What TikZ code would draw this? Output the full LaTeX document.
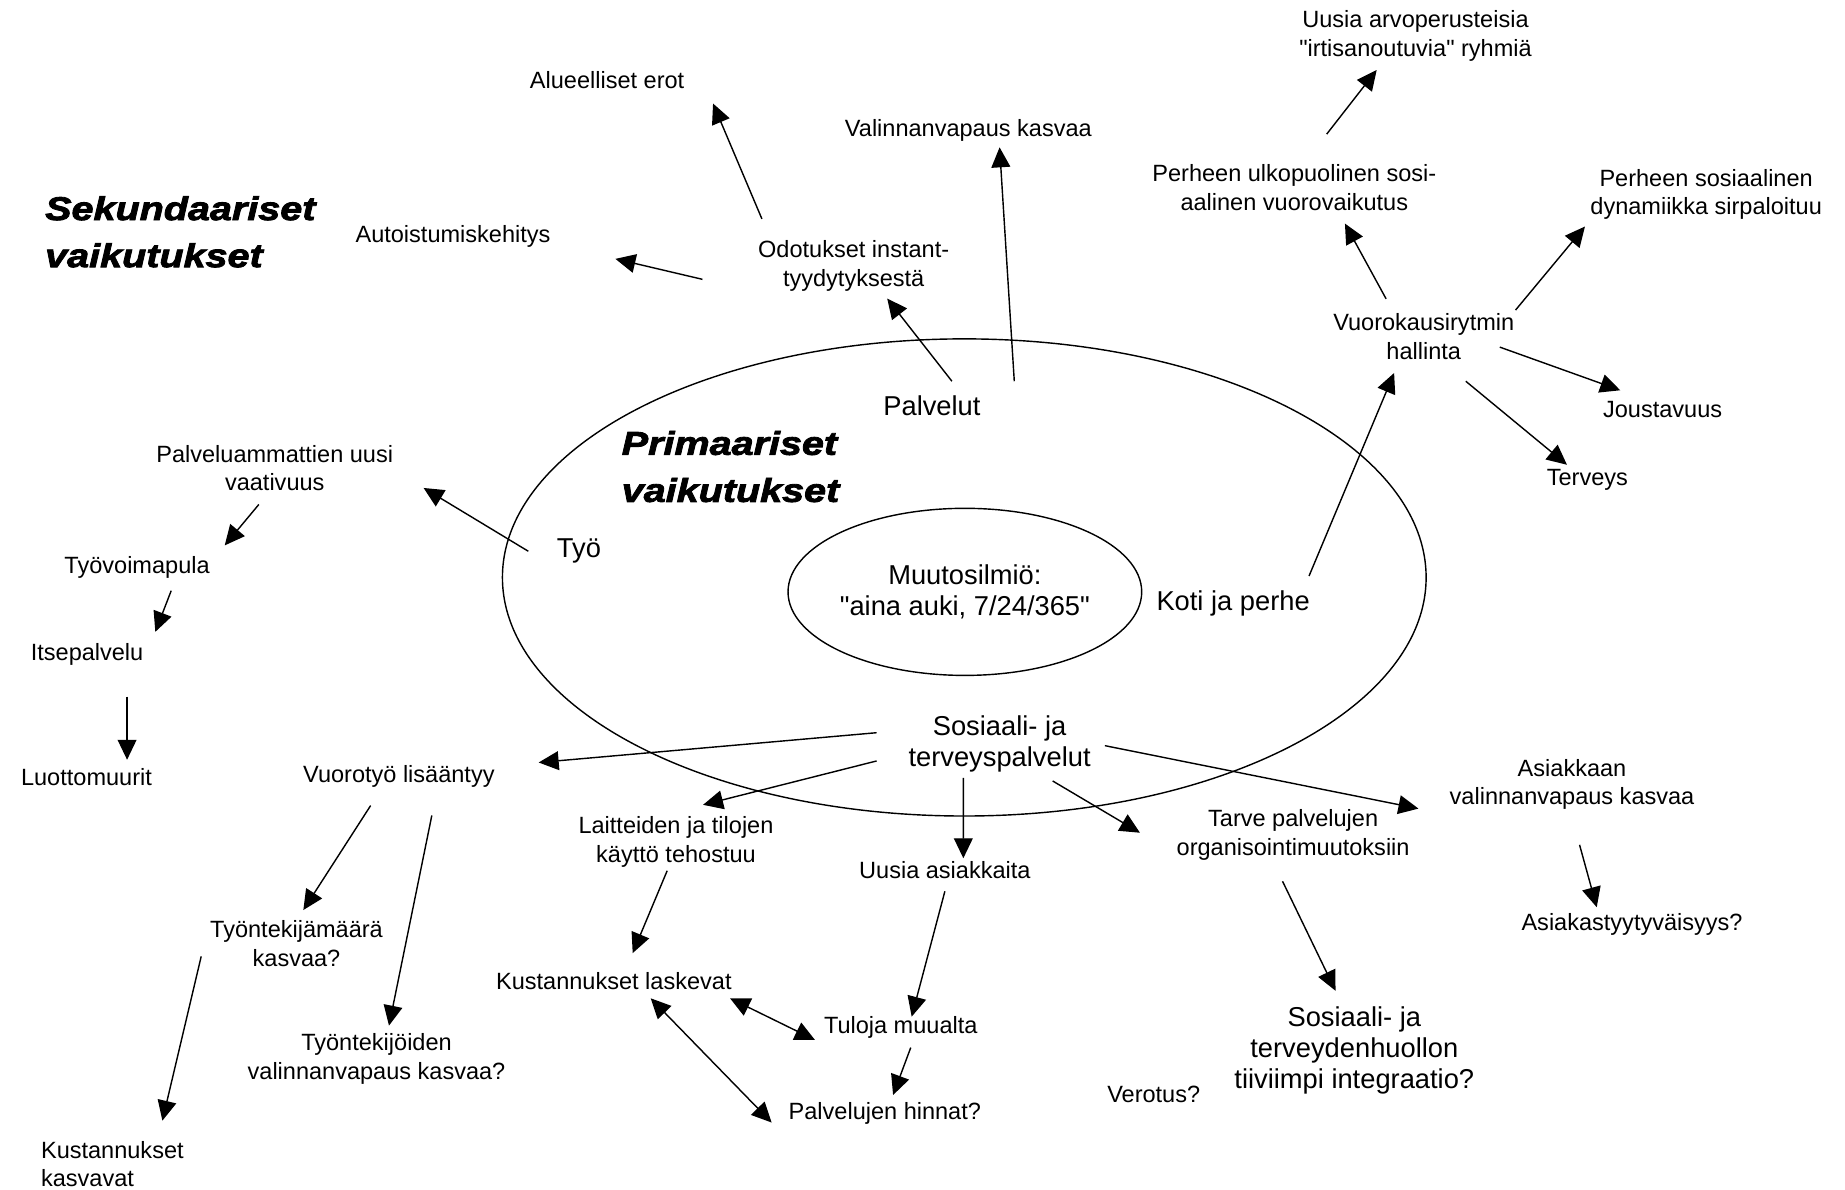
\documentclass[tikz,border=0pt]{standalone}
\usepackage{fontspec}
\setmainfont{Liberation Sans}
\newfontfamily\headfont{Liberation Sans}[FakeStretch=1.2,FakeBold=2.5]
\usetikzlibrary{shapes.geometric,arrows.meta}

\begin{document}
\begin{tikzpicture}[x=0.5pt,y=-0.5pt]
        \tikzstyle{every node}+=[inner sep=2pt,align=center,font=\fontsize{10}{12}\selectfont]
        \tikzstyle{big}=[font=\fontsize{11.6}{13.2}\selectfont]
        \tikzstyle{head}=[font=\headfont\bfseries\itshape\fontsize{14}{20}\selectfont,align=left,anchor=west]
        \tikzstyle{ring}=[draw,ellipse,line width=0.6pt,inner sep=0pt,outer sep=0pt]
        \tikzstyle{arr}=[-{Triangle[length=8.5pt,width=8pt]},line width=0.6pt]
        \tikzstyle{arrs}=[{Triangle[length=8.5pt,width=8pt]}-{Triangle[length=8.5pt,width=8pt]},line width=0.6pt]
        \useasboundingbox (0,0) rectangle (1568,1011);
        % the two rings
        \node[ring,minimum width=392.5pt,minimum height=202.75pt] (outer) at (819.5,490.75) {};
        \node[ring,big,minimum width=150pt,minimum height=71pt] (muutos) at (820,503) {Muutosilmiö:\\\textquotedbl aina auki, 7/24/365\textquotedbl};
        \node[head] (sek) at (34,197) {Sekundaariset\\vaikutukset};
        \node[head] (prim) at (524,396.5) {Primaariset\\vaikutukset};
        % primary effects
        \node[big] (palvelut) at (792,345) {Palvelut};
        \node[big] (tyo) at (492,468.5) {Työ};
        \node[big] (koti) at (1048,513) {Koti ja perhe};
        \node[big] (sote) at (849.5,632.5) {Sosiaali- ja\\terveyspalvelut};
        % secondary effects
        \node (alue) at (516,68) {Alueelliset erot};
        \node (valin) at (823,111) {Valinnanvapaus kasvaa};
        \node (uusiarvo) at (1203,30.5) {Uusia arvoperusteisia\\\textquotedbl irtisanoutuvia\textquotedbl{} ryhmiä};
        \node (ulko) at (1100,159.5) {Perheen ulkopuolinen sosi-\\aalinen vuorovaikutus};
        \node (perhsos) at (1450,165.5) {Perheen sosiaalinen\\dynamiikka sirpaloituu};
        \node (auto) at (385,201) {Autoistumiskehitys};
        \node (odot) at (725.5,226) {Odotukset instant-\\tyydytyksestä};
        \node (vuoro) at (1210,286) {Vuorokausirytmin\\hallinta};
        \node (jous) at (1413,348) {Joustavuus};
        \node (terv) at (1349,408) {Terveys};
        \node (palvam) at (233.5,398) {Palveluammattien uusi\\vaativuus};
        \node (tyovoima) at (116.5,482) {Työvoimapula};
        \node (itse) at (74,556.5) {Itsepalvelu};
        \node (luotto) at (73.5,660) {Luottomuurit};
        \node (vuorotyo) at (339,660) {Vuorotyö lisääntyy};
        \node (laitt) at (574.5,715.5) {Laitteiden ja tilojen\\käyttö tehostuu};
        \node (uusas) at (803,739.5) {Uusia asiakkaita};
        \node (tarve) at (1099,709.5) {Tarve palvelujen\\organisointimuutoksiin};
        \node (asiak) at (1336,666.5) {Asiakkaan\\valinnanvapaus kasvaa};
        \node (asiatyyt) at (1387,786) {Asiakastyytyväisyys?};
        \node (tyontmaara) at (252,802) {Työntekijämäärä\\kasvaa?};
        \node (kustlask) at (521.7,834) {Kustannukset laskevat};
        \node (tuloja) at (765.5,873.5) {Tuloja muualta};
        \node (tyontval) at (320,900) {Työntekijöiden\\valinnanvapaus kasvaa?};
        \node (hinnat) at (752,946) {Palvelujen hinnat?};
        \node (verotus) at (980.5,930) {Verotus?};
        \node[align=left] (kustkasv) at (95.5,989) {Kustannukset\\kasvavat};
        \node[big] (integ) at (1151,892.5) {Sosiaali- ja\\terveydenhuollon\\tiiviimpi integraatio?};
        % arrows
        \draw[arr] ([shift={(-78,-40)}]odot.center) -- ([shift={(90,20)}]alue.center);
        \draw[arr] ([shift={(-128.5,11.4)}]odot.center) -- ([shift={(138,19)}]auto.center);
        \draw[arr] ([shift={(17,-21)}]palvelut.center) -- ([shift={(28.5,27.7)}]odot.center);
        \draw[arr] ([shift={(70,-21)}]palvelut.center) -- ([shift={(26.5,14.2)}]valin.center);
        \draw[arr] ([shift={(-32,-32)}]vuoro.center) -- ([shift={(43,30.5)}]ulko.center);
        \draw[arr] ([shift={(27.5,-45.5)}]ulko.center) -- ([shift={(-33,29)}]uusiarvo.center);
        \draw[arr] ([shift={(78,-22.5)}]vuoro.center) -- ([shift={(-103,27)}]perhsos.center);
        \draw[arr] ([shift={(64.6,9)}]vuoro.center) -- ([shift={(-36,-16.3)}]jous.center);
        \draw[arr] ([shift={(35.7,38)}]vuoro.center) -- ([shift={(-17.3,-13)}]terv.center);
        \draw[arr] ([shift={(64.5,-23.5)}]koti.center) -- ([shift={(-25.2,31)}]vuoro.center);
        \draw[arr] ([shift={(-43,0)}]tyo.center) -- ([shift={(126.5,16.7)}]palvam.center);
        \draw[arr] ([shift={(-13.5,30.7)}]palvam.center) -- ([shift={(74.5,-18.5)}]tyovoima.center);
        \draw[arr] ([shift={(29,20)}]tyovoima.center) -- ([shift={(58,-19.5)}]itse.center);
        \draw[arr] ([shift={(34,35.5)}]itse.center) -- ([shift={(34.5,-14.3)}]luotto.center);
        \draw[arr] ([shift={(-104.5,-9.8)}]sote.center) -- ([shift={(118.8,-12)}]vuorotyo.center);
        \draw[arr] ([shift={(-104.5,14.2)}]sote.center) -- ([shift={(23,-31.5)}]laitt.center);
        \draw[arr] ([shift={(-24,24.6)}]vuorotyo.center) -- ([shift={(5.8,-28.6)}]tyontmaara.center);
        \draw[arr] ([shift={(28,33)}]vuorotyo.center) -- ([shift={(10.6,-28.4)}]tyontval.center);
        \draw[arr] ([shift={(-81,10.8)}]tyontmaara.center) -- ([shift={(42.5,-36.6)}]kustkasv.center);
        \draw[arr] ([shift={(-7.5,24.5)}]laitt.center) -- ([shift={(16,-24)}]kustlask.center);
        \draw[arrs] ([shift={(98.7,14.4)}]kustlask.center) -- ([shift={(-72.9,10.3)}]tuloja.center);
        \draw[arrs] ([shift={(31.3,14.4)}]kustlask.center) -- ([shift={(-96.2,8)}]hinnat.center);
        \draw[arr] ([shift={(0,18)}]uusas.center) -- ([shift={(9.3,-9.5)}]tuloja.center);
        \draw[arr] ([shift={(8.5,16.8)}]tuloja.center) -- ([shift={(7,-15.4)}]hinnat.center);
        \draw[arr] ([shift={(-30.8,28.5)}]sote.center) -- ([shift={(15.7,-10.1)}]uusas.center);
        \draw[arr] ([shift={(45.1,31.2)}]sote.center) -- ([shift={(-130.2,-1.8)}]tarve.center);
        \draw[arr] ([shift={(89.5,1.2)}]sote.center) -- ([shift={(-130.5,20.7)}]asiak.center);
        \draw[arr] ([shift={(-9,39.5)}]tarve.center) -- ([shift={(-16,-50.5)}]integ.center);
        \draw[arr] ([shift={(6.4,51.5)}]asiak.center) -- ([shift={(-30,-15)}]asiatyyt.center);
\end{tikzpicture}
\end{document}
